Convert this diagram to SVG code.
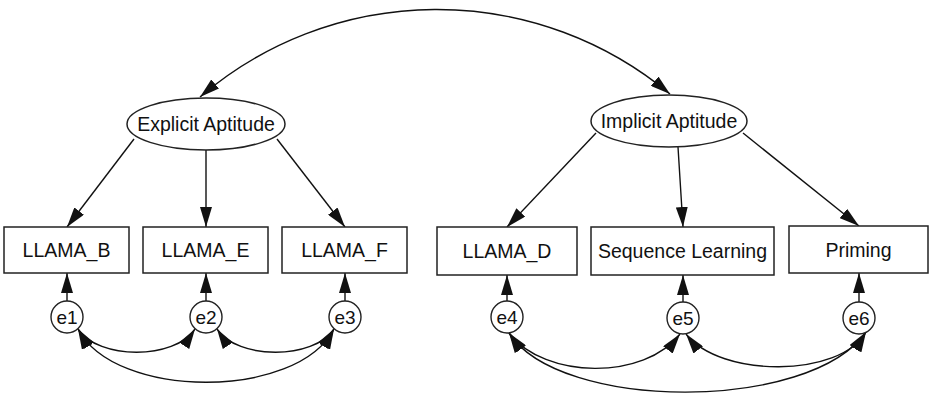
<svg xmlns="http://www.w3.org/2000/svg" width="930" height="395" viewBox="0 0 930 395">
<defs>
<marker id="ah" viewBox="0 0 20 12" refX="20" refY="6" markerWidth="20" markerHeight="12" markerUnits="userSpaceOnUse" orient="auto-start-reverse">
<path d="M0,0 L20,6 L0,12 z" fill="#111"/>
</marker>
</defs>
<style>
.box{fill:#fff;stroke:#222;stroke-width:1.5}
.lat{fill:#fff;stroke:#222;stroke-width:1.5}
.err{fill:#fff;stroke:#222;stroke-width:1.4}
.lbl{font-family:"Liberation Sans",Arial,sans-serif;font-size:19.5px;fill:#111;text-anchor:middle}
.elbl{font-family:"Liberation Sans",Arial,sans-serif;font-size:19px;fill:#111;text-anchor:middle}
.one{fill:none;stroke:#111;stroke-width:1.4;marker-end:url(#ah)}
.two{fill:none;stroke:#111;stroke-width:1.4;marker-start:url(#ah);marker-end:url(#ah)}
</style>
<g id="connectors">
<path class="two" d="M200,97 A364,364 0 0 1 670,94"/>
<path class="one" d="M134,139 L67,227"/>
<path class="one" d="M206,150 L206,227"/>
<path class="one" d="M277,139 L345,227"/>
<path class="one" d="M596,133 L507,227"/>
<path class="one" d="M678,147 L683,227"/>
<path class="one" d="M743,133 L859,226"/>
<path class="one" d="M67,301 L67,273"/>
<path class="one" d="M206,301 L206,273"/>
<path class="one" d="M345,301 L345,273"/>
<path class="one" d="M507,301 L507,275"/>
<path class="one" d="M683,302 L683,275"/>
<path class="one" d="M859,302 L859,273"/>
<path class="two" d="M78,329 C98,360 175,360 195,329"/>
<path class="two" d="M217,329 C237,360 314,360 334,329"/>
<path class="two" d="M78,329 C115,400 297,400 334,329"/>
<path class="two" d="M509,333 C545,380 645,380 680,334"/>
<path class="two" d="M686,334 C720,378 840,378 866,332"/>
<path class="two" d="M509,333 C560,412 810,412 866,332"/>
</g>
<g id="explicit"><ellipse class="lat" cx="206" cy="124" rx="79" ry="26"/><text class="lbl" x="206" y="131">Explicit Aptitude</text></g>
<g id="implicit"><ellipse class="lat" cx="669" cy="121" rx="78" ry="26"/><text class="lbl" x="669" y="128">Implicit Aptitude</text></g>
<g id="llama_b"><rect class="box" x="4" y="227" width="125" height="46"/><text class="lbl" x="66.5" y="257">LLAMA_B</text></g>
<g id="llama_e"><rect class="box" x="143" y="227" width="125" height="46"/><text class="lbl" x="205.5" y="257">LLAMA_E</text></g>
<g id="llama_f"><rect class="box" x="282" y="227" width="125" height="46"/><text class="lbl" x="344.5" y="257">LLAMA_F</text></g>
<g id="llama_d"><rect class="box" x="437" y="227" width="140" height="48"/><text class="lbl" x="507" y="258">LLAMA_D</text></g>
<g id="seq"><rect class="box" x="591" y="227" width="183" height="48"/><text class="lbl" x="682.5" y="258">Sequence Learning</text></g>
<g id="priming"><rect class="box" x="789" y="226" width="139" height="47"/><text class="lbl" x="858.5" y="257">Priming</text></g>
<g id="e1"><circle class="err" cx="67" cy="317" r="16"/><text class="elbl" x="67" y="324">e1</text></g>
<g id="e2"><circle class="err" cx="206" cy="317" r="16"/><text class="elbl" x="206" y="324">e2</text></g>
<g id="e3"><circle class="err" cx="345" cy="317" r="16"/><text class="elbl" x="345" y="324">e3</text></g>
<g id="e4"><circle class="err" cx="507" cy="317" r="16"/><text class="elbl" x="507" y="324">e4</text></g>
<g id="e5"><circle class="err" cx="683" cy="318" r="16"/><text class="elbl" x="683" y="325">e5</text></g>
<g id="e6"><circle class="err" cx="859" cy="318" r="16"/><text class="elbl" x="859" y="325">e6</text></g>
</svg>
